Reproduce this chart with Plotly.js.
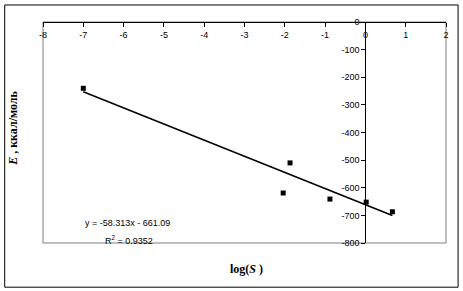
<!DOCTYPE html>
<html>
<head>
<meta charset="utf-8">
<script src="https://cdn.plot.ly/plotly-3.0.1.min.js"></script>
<style>html,body{margin:0;padding:0;background:#fff;}#chart{width:463px;height:291px;}</style>
</head>
<body>
<div id="chart"></div>
<script>
// Data points
const logS = [-7, -2.04, -1.87, -0.88, 0.02, 0.67];
const energy = [-240, -619, -510, -641, -652, -687];
// Trend line as printed on the chart
const slope = -58.313;
const intercept = -661.09;
const xTicks = [-8, -7, -6, -5, -4, -3, -2, -1, 0, 1, 2];
const yTicks = [-800, -700, -600, -500, -400, -300, -200, -100, 0];

const trendX = [Math.min(...logS), Math.max(...logS)];
const trendY = trendX.map(x => slope * x + intercept);

const data = [
  {x: trendX, y: trendY, mode: 'lines', line: {color: '#000', width: 1.6}, hoverinfo: 'skip', showlegend: false},
  {x: logS, y: energy, mode: 'markers', marker: {symbol: 'square', size: 5, color: '#000'}, showlegend: false}
];

const layout = {
  width: 463, height: 291,
  margin: {l: 43, r: 17, t: 22, b: 48},
  paper_bgcolor: '#fff', plot_bgcolor: '#fff',
  font: {family: 'Arial, "Liberation Sans", sans-serif', size: 9, color: '#000'},
  xaxis: {
    range: [-8, 2], anchor: 'free', position: 1, side: 'bottom',
    tickvals: xTicks, ticktext: xTicks.map(String),
    showline: true, linecolor: '#000', linewidth: 1, mirror: false,
    ticks: 'outside', ticklen: 4, tickcolor: '#000',
    showgrid: false, zeroline: false, fixedrange: true
  },
  yaxis: {
    range: [-800, 0], anchor: 'free', position: 0.8, side: 'left',
    tickvals: yTicks, ticktext: yTicks.map(String),
    showline: true, linecolor: '#000', linewidth: 1,
    ticks: 'outside', ticklen: 4, tickcolor: '#000',
    showgrid: false, zeroline: false, fixedrange: true
  },
  shapes: [
    {type: 'rect', xref: 'paper', yref: 'paper', x0: 0, x1: 1, y0: 0, y1: 1, line: {color: '#808080', width: 1}, layer: 'below'},
    {type: 'rect', xref: 'paper', yref: 'paper', x0: -0.095, x1: 1.03, y0: -0.2, y1: 1.077, line: {color: '#000', width: 1}, layer: 'below'}
  ],
  annotations: [
    {xref: 'paper', yref: 'paper', x: -0.075, y: 0.52, text: '<b><i>E</i> , ккал/моль</b>', textangle: -90, showarrow: false,
     font: {family: '"Liberation Serif", "Times New Roman", serif', size: 12}, xanchor: 'center', yanchor: 'middle'},
    {xref: 'paper', yref: 'paper', x: 0.504, y: -0.118, text: '<b>log(<i>S</i> )</b>', showarrow: false,
     font: {family: '"Liberation Serif", "Times New Roman", serif', size: 12}, xanchor: 'center', yanchor: 'middle'},
    {xref: 'paper', yref: 'paper', x: 0.1, y: 0.09, text: 'y = -58.313x - 661.09', showarrow: false, xanchor: 'left', yanchor: 'middle',
     font: {size: 9}},
    {xref: 'paper', yref: 'paper', x: 0.15, y: 0.015, text: 'R<sup>2</sup> = 0.9352', showarrow: false, xanchor: 'left', yanchor: 'middle',
     font: {size: 9}}
  ]
};

Plotly.newPlot('chart', data, layout, {staticPlot: true, displayModeBar: false});
</script>
</body>
</html>
